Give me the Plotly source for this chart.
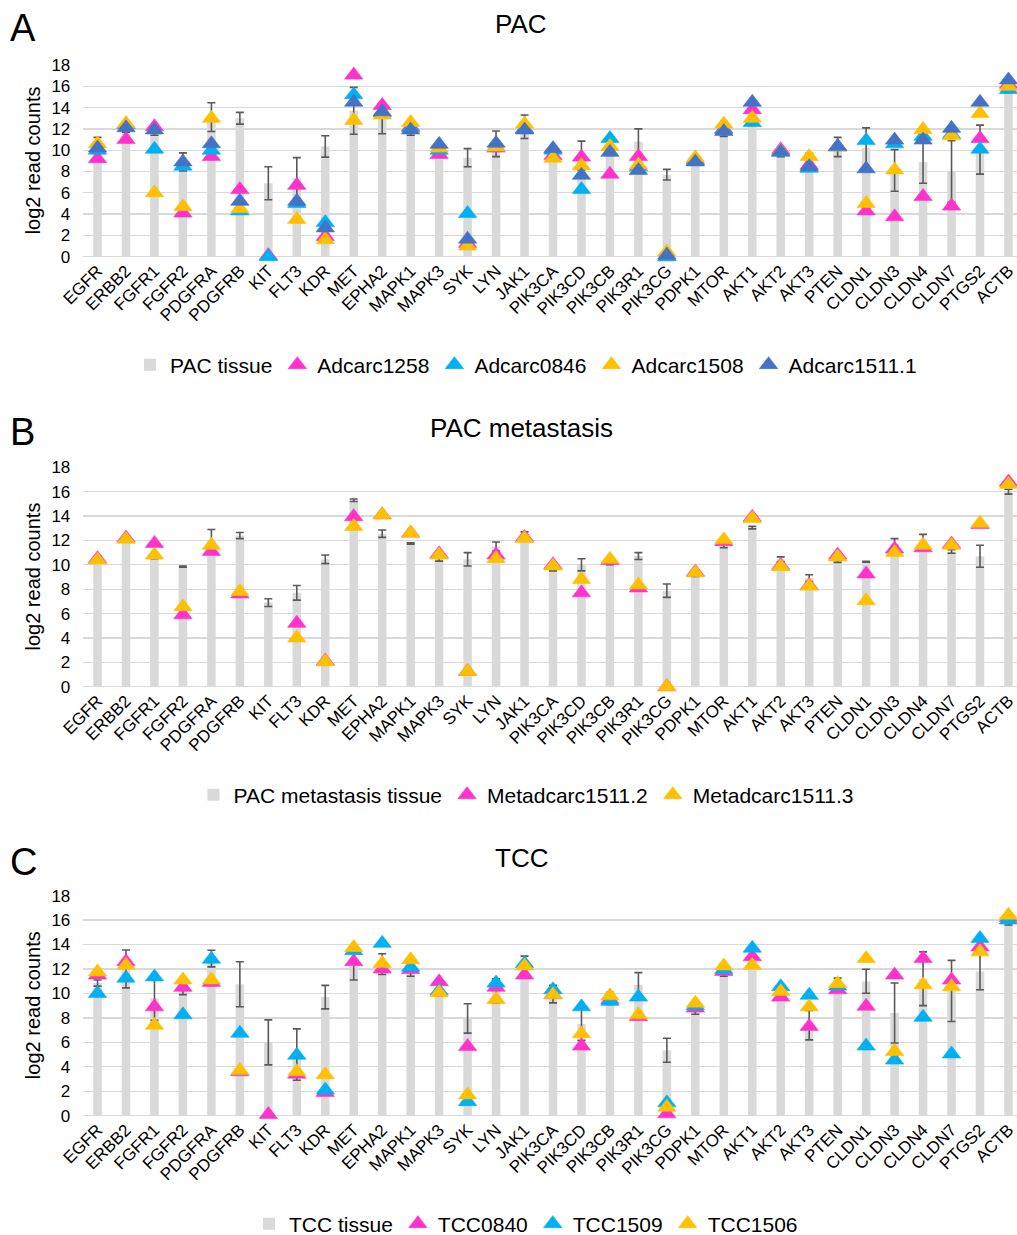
import plotly.graph_objects as go

genes = ["EGFR", "ERBB2", "FGFR1", "FGFR2", "PDGFRA", "PDGFRB", "KIT", "FLT3", "KDR", "MET",
         "EPHA2", "MAPK1", "MAPK3", "SYK", "LYN", "JAK1", "PIK3CA", "PIK3CD", "PIK3CB", "PIK3R1",
         "PIK3CG", "PDPK1", "MTOR", "AKT1", "AKT2", "AKT3", "PTEN", "CLDN1", "CLDN3", "CLDN4",
         "CLDN7", "PTGS2", "ACTB"]

# ---- Panel A: PAC ----
pac_tissue = [10.6, 12.0, 11.8, 8.9, 13.1, 13.0, 6.9, 7.35, 10.35, 13.7,
              13.0, 11.6, 9.9, 9.3, 10.6, 12.2, 9.3, 9.5, 9.9, 10.8,
              7.7, 9.0, 11.6, 13.0, 9.7, 9.0, 10.3, 10.2, 8.1, 8.9,
              8.0, 10.05, 15.6]
pac_tissue_err = [0.6, 0.3, 0.4, 0.85, 1.35, 0.55, 1.55, 1.95, 1.0, 2.2,
                  1.45, 0.2, 0.45, 0.85, 1.2, 1.1, 0.2, 1.35, 0.4, 1.2,
                  0.5, 0.2, 0.3, 0.2, 0.3, 0.7, 0.9, 1.9, 1.95, 2.0,
                  2.9, 2.3, 0.2]
adcarc1258 = [9.2, 11.0, 12.2, 4.1, 9.4, 6.3, 0.1, 6.7, 1.9, 17.05,
              14.2, 12.2, 9.6, 1.25, 10.2, 12.0, 9.5, 9.35, 7.75, 9.4,
              0.0, 9.1, 12.0, 13.8, 10.05, 8.6, 10.35, 4.3, 3.75, 5.65,
              4.75, 11.1, 16.2]
adcarc0846 = [10.0, 12.4, 10.1, 8.5, 10.0, 4.3, 0.0, 5.0, 3.2, 15.2,
              13.5, 12.1, 10.0, 4.05, 10.3, 12.0, 10.0, 6.3, 11.1, 8.45,
              0.0, 9.0, 11.9, 12.6, 9.8, 8.3, 10.3, 10.9, 10.6, 11.3,
              11.5, 10.1, 15.7]
adcarc1508 = [10.6, 12.5, 6.0, 4.7, 13.0, 4.5, None, 3.5, 1.6, 12.8,
              13.3, 12.6, 10.2, 1.0, 10.3, 12.45, 9.25, 8.55, 10.35, 8.6,
              0.45, 9.3, 12.45, 13.0, 9.9, 9.4, 10.3, 5.0, 8.15, 11.95,
              11.35, 13.45, 16.0]
adcarc1511_1 = [10.2, 12.1, 11.9, 8.9, 10.6, 5.2, None, 5.2, 2.7, 14.5,
                13.6, 11.9, 10.55, 1.65, 10.65, 11.9, 10.15, 7.65, 9.8, 8.1,
                0.15, 8.9, 11.75, 14.5, 9.85, 8.45, 10.35, 8.25, 10.95, 10.95,
                12.05, 14.5, 16.6]

# ---- Panel B: PAC metastasis ----
met_tissue = [10.6, 12.0, 10.7, 9.85, 12.0, 12.4, 6.9, 7.7, 10.45, 15.3,
              12.55, 11.75, 10.5, 10.45, 11.5, 12.5, 9.7, 10.0, 10.2, 10.72,
              7.88, 9.2, 11.6, 13.05, 10.45, 8.9, 10.4, 10.25, 11.7, 12.1,
              11.1, 10.7, 16.0]
met_tissue_err = [0.12, 0.1, 0.2, 0.05, 0.9, 0.25, 0.32, 0.6, 0.35, 0.1,
                  0.3, 0.05, 0.2, 0.55, 0.37, 0.2, 0.2, 0.5, 0.2, 0.28,
                  0.55, 0.15, 0.2, 0.1, 0.2, 0.28, 0.2, 0.03, 0.45, 0.4,
                  0.15, 0.9, 0.2]
metadcarc1511_2 = [10.5, 12.2, 11.75, 5.9, 11.1, 7.6, None, 5.2, 2.1, 13.95,
                   14.1, 12.6, 10.9, 1.25, 10.8, 12.25, 10.0, 7.7, 10.35, 8.1,
                   0.0, 9.4, 11.9, 13.9, 9.95, 8.3, 10.8, 9.25, 11.3, 11.4,
                   11.7, 13.3, 16.8]
metadcarc1511_3 = [10.4, 12.1, 10.8, 6.55, 11.6, 7.8, None, 4.0, 2.05, 13.15,
                   14.1, 12.6, 10.8, 1.25, 10.5, 12.15, 9.9, 8.8, 10.45, 8.35,
                   0.0, 9.35, 12.05, 13.8, 9.85, 8.25, 10.65, 7.05, 11.0, 11.6,
                   11.6, 13.4, 16.6]

# ---- Panel C: TCC ----
tcc_tissue = [10.85, 12.0, 9.6, 10.2, 12.85, 10.75, 6.0, 5.0, 9.7, 12.2,
              12.4, 11.8, 10.0, 7.95, 10.2, 12.2, 9.95, 7.5, 9.6, 10.7,
              5.35, 8.6, 11.6, 12.3, 9.8, 7.4, 10.9, 11.0, 8.4, 11.2,
              10.2, 11.8, 15.8]
tcc_tissue_err = [0.25, 1.55, 1.8, 0.3, 0.68, 1.84, 1.84, 2.1, 0.96, 1.1,
                  0.85, 0.4, 0.2, 1.2, 1.0, 0.85, 0.72, 1.35, 0.5, 1.0,
                  0.98, 0.3, 0.2, 0.2, 0.2, 1.2, 0.35, 0.98, 2.45, 2.2,
                  2.5, 1.5, 0.2]
tcc0840 = [11.5, 12.6, 8.9, 10.5, 10.9, 3.6, 0.1, 3.4, 1.9, 12.6,
           12.0, 11.95, 10.95, 5.65, 10.5, 11.5, 9.9, 5.7, 9.5, 8.1,
           0.15, 8.8, 11.8, 13.0, 9.7, 7.3, 10.3, 8.95, 11.5, 12.85,
           11.1, 13.8, 16.2]
tcc1509 = [10.0, 11.25, 11.35, 8.25, 12.8, 6.75, None, 4.95, 2.1, 13.5,
           14.1, 12.15, 10.2, 1.15, 10.85, 12.45, 10.3, 8.9, 9.35, 9.7,
           1.05, 9.0, 11.95, 13.7, 10.55, 9.85, 10.6, 5.7, 4.55, 8.05,
           5.05, 14.5, 16.0]
tcc1506 = [11.75, 12.3, 7.4, 11.1, 11.1, 3.7, None, 3.6, 3.35, 13.75,
           12.45, 12.75, 10.05, 1.7, 9.5, 12.25, 9.9, 6.7, 9.8, 8.25,
           0.7, 9.2, 12.25, 12.3, 10.15, 8.9, 10.8, 12.85, 5.25, 10.7,
           10.55, 13.4, 16.4]

MAGENTA = "#FF33CC"
CYAN = "#00B0F0"
GOLD = "#FFC000"
BLUE = "#4472C4"
GREY = "#D9D9D9"
ERR = "#595959"
FONT = "Liberation Sans, Arial, sans-serif"

W, H = 1017, 1235
PLOT_LEFT = 83.3
panels = [
    dict(xa="x", ya="y", lg="legend", top=65.0, bot=256.7, lgy=365, title="PAC", letter="A", ty=24,
         tname="PAC tissue", tissue=pac_tissue, err=pac_tissue_err,
         series=[("Adcarc1258", adcarc1258, MAGENTA), ("Adcarc0846", adcarc0846, CYAN),
                 ("Adcarc1508", adcarc1508, GOLD), ("Adcarc1511.1", adcarc1511_1, BLUE)]),
    dict(xa="x2", ya="y2", lg="legend2", top=467.3, bot=686.7, lgy=795, title="PAC metastasis", letter="B", ty=428,
         tname="PAC metastasis tissue", tissue=met_tissue, err=met_tissue_err,
         series=[("Metadcarc1511.2", metadcarc1511_2, MAGENTA), ("Metadcarc1511.3", metadcarc1511_3, GOLD)]),
    dict(xa="x3", ya="y3", lg="legend3", top=895.6, bot=1115.7, lgy=1224, title="TCC", letter="C", ty=858,
         tname="TCC tissue", tissue=tcc_tissue, err=tcc_tissue_err,
         series=[("TCC0840", tcc0840, MAGENTA), ("TCC1509", tcc1509, CYAN), ("TCC1506", tcc1506, GOLD)]),
]

fig = go.Figure()
layout = dict(
    width=W, height=H, margin=dict(l=0, r=0, t=0, b=0, pad=0, autoexpand=False),
    paper_bgcolor="white", plot_bgcolor="white",
    showlegend=True, barmode="overlay", hovermode=False,
    font=dict(family=FONT, color="#000000"),
    annotations=[],
)

for i, p in enumerate(panels):
    fig.add_trace(go.Bar(
        x=genes, y=p["tissue"], name=p["tname"], xaxis=p["xa"], yaxis=p["ya"], legend=p["lg"],
        width=0.3, marker=dict(color=GREY, line=dict(width=0)),
        error_y=dict(type="data", array=p["err"], visible=True, color=ERR, thickness=1.6, width=4),
    ))
    for name, vals, col in p["series"]:
        fig.add_trace(go.Scatter(
            x=genes, y=vals, name=name, mode="markers", xaxis=p["xa"], yaxis=p["ya"], legend=p["lg"],
            cliponaxis=False,
            marker=dict(symbol="triangle-up", size=16, color=col, line=dict(width=0.6, color=col)),
        ))
    suf = "" if i == 0 else str(i + 1)
    layout["xaxis" + suf] = dict(
        domain=[PLOT_LEFT / W, 1], range=[-0.5, 32.3], type="category", automargin=False,
        anchor="y" + suf, showgrid=False, zeroline=False, showline=False,
        tickangle=-45, tickfont=dict(family=FONT, size=17, color="#000000"), ticks="",
    )
    layout["yaxis" + suf] = dict(
        domain=[1 - p["bot"] / H, 1 - p["top"] / H], range=[0, 18], anchor="x" + suf, automargin=False,
        tickmode="linear", tick0=0, dtick=2, showgrid=True, gridcolor=GREY, gridwidth=1.3,
        zeroline=True, zerolinecolor=GREY, zerolinewidth=1.3, showline=False,
        tickfont=dict(family=FONT, size=17, color="#000000"), ticklabelstandoff=12,
    )
    layout[p["lg"]] = dict(
        orientation="h", x=526 / W, xanchor="center", y=1 - p["lgy"] / H, yanchor="middle",
        font=dict(family=FONT, size=21, color="#000000"), itemwidth=30, traceorder="normal",
        bgcolor="rgba(0,0,0,0)",
    )
    layout["annotations"] += [
        dict(text=p["title"], x=521 / W, y=1 - p["ty"] / H, xref="paper", yref="paper",
             xanchor="center", yanchor="middle", showarrow=False,
             font=dict(family=FONT, size=26, color="#000000")),
        dict(text=p["letter"], x=8 / W, y=1 - (p["ty"] + 4) / H, xref="paper", yref="paper",
             xanchor="left", yanchor="middle", showarrow=False,
             font=dict(family=FONT, size=38, color="#000000")),
        dict(text="log2 read counts", x=32.5 / W, y=1 - (p["top"] + p["bot"]) / 2 / H,
             xref="paper", yref="paper", xanchor="center", yanchor="middle", textangle=-90,
             showarrow=False, font=dict(family=FONT, size=20, color="#000000")),
    ]

fig.update_layout(**layout)
fig.write_html(
    "out.html",
    config={"displayModeBar": False, "staticPlot": True},
    post_script="document.body.style.margin='0';document.body.style.padding='0';"
                "document.body.style.overflow='hidden';",
)
